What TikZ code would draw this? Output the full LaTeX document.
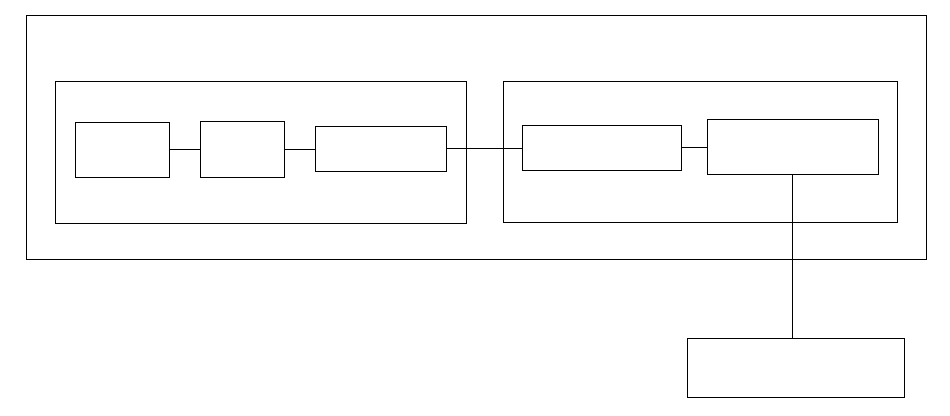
\documentclass[tikz,border=0pt]{standalone}
\usepackage{xcolor}
\usetikzlibrary{positioning,calc}
\definecolor{ink}{HTML}{000000}

\tikzset{
  blockbox/.style={draw=ink, line width=1pt, inner sep=0pt, fill=none},
  wire/.style={draw=ink, line width=1pt}
}

\begin{document}
\begin{tikzpicture}[x=1pt, y=-1pt]
  \useasboundingbox (0,0) rectangle (950,415);
  % outer frame and the two groups
  \node[blockbox, minimum width=900pt, minimum height=244pt] (outer) at (476,137) {};
  \node[blockbox, minimum width=411pt, minimum height=142pt] (grpL) at (260.8,152.2) {};
  \node[blockbox, minimum width=394pt, minimum height=141pt] (grpR) at (700.3,151.8) {};
  % left chain
  \node[blockbox, minimum width=94pt, minimum height=55pt] (a) at (122.3,149.8) {};
  \node[blockbox, minimum width=84pt, minimum height=56pt] (b) at (242.3,149.3) {};
  \node[blockbox, minimum width=131pt, minimum height=45pt] (c) at (380.8,148.8) {};
  % right chain
  \node[blockbox, minimum width=159pt, minimum height=45pt] (d) at (601.8,147.8) {};
  \node[blockbox, minimum width=171pt, minimum height=55pt] (e) at (792.8,146.7) {};
  % outside box
  \node[blockbox, minimum width=217pt, minimum height=59pt] (f) at (795.8,367.7) {};

  \draw[wire] (a.east) -- (a.east -| b.west);
  \draw[wire] (b.east) -- (b.east -| c.west);
  \draw[wire] (c.east) -- (c.east -| d.west);
  \draw[wire] (d.east) -- (d.east -| e.west);
  \draw[wire] (e.south) -- (e.south |- f.north);
\end{tikzpicture}
\end{document}
